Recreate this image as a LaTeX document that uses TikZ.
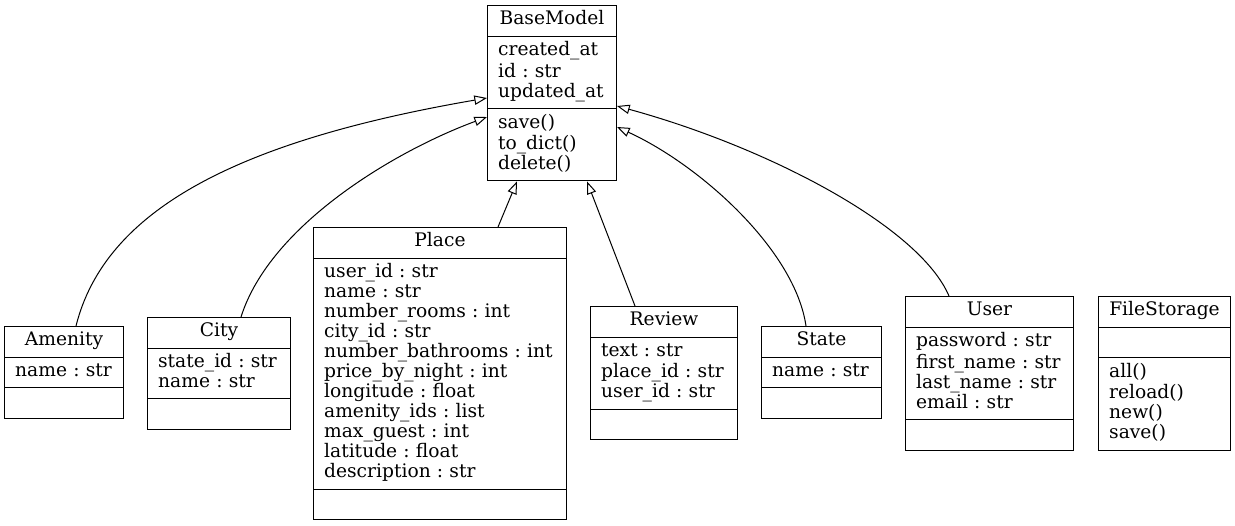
\documentclass[tikz,border=0pt]{standalone}
\usepackage{fontspec}
\setmainfont{DejaVu Serif}
\usepackage{tikz}
\usetikzlibrary{arrows.meta, shapes.multipart, calc}

\tikzset{
  classbox/.style={draw, line width=0.75pt, rectangle split, rectangle split parts=3,
    text width=#1, align=left, inner xsep=8pt, inner ysep=3.6pt,
    anchor=north west, font=\fontsize{14}{15}\selectfont\frenchspacing},
  inherit/.style={-{Triangle[open, length=9.5pt, width=7pt]}, line width=0.75pt}
}

\begin{document}
\begin{tikzpicture}[x=0.75pt, y=-0.75pt]
  \useasboundingbox (0,0) rectangle (1235,525);

  % classes
  \node[classbox=80.75pt] (BaseModel) at (487,5)
    {\strut\hfill BaseModel\hfill\strut
     \nodepart{two}\strut created\_at\\ id : str\\ updated\_at\strut
     \nodepart{three}\strut save()\\ to\_dict()\\ delete()\strut};
  \node[classbox=73.25pt] (Amenity) at (4,326)
    {\strut\hfill Amenity\hfill\strut
     \nodepart{two}\strut name : str\strut
     \nodepart{three}\strut};
  \node[classbox=91.25pt] (City) at (147,317)
    {\strut\hfill City\hfill\strut
     \nodepart{two}\strut state\_id : str\\ name : str\strut
     \nodepart{three}\strut};
  \node[classbox=173.75pt] (Place) at (313,227)
    {\strut\hfill Place\hfill\strut
     \nodepart{two}\strut user\_id : str\\ name : str\\ number\_rooms : int\\
       city\_id : str\\ number\_bathrooms : int\\ price\_by\_night : int\\
       longitude : float\\ amenity\_ids : list\\ max\_guest : int\\
       latitude : float\\ description : str\strut
     \nodepart{three}\strut};
  \node[classbox=94.25pt] (Review) at (590,306)
    {\strut\hfill Review\hfill\strut
     \nodepart{two}\strut text : str\\ place\_id : str\\ user\_id : str\strut
     \nodepart{three}\strut};
  \node[classbox=74pt] (State) at (761,326)
    {\strut\hfill State\hfill\strut
     \nodepart{two}\strut name : str\strut
     \nodepart{three}\strut};
  \node[classbox=110pt] (User) at (905,296)
    {\strut\hfill User\hfill\strut
     \nodepart{two}\strut password : str\\ first\_name : str\\ last\_name : str\\ email : str\strut
     \nodepart{three}\strut};
  \node[classbox=83pt] (FileStorage) at (1098,296)
    {\strut\hfill FileStorage\hfill\strut
     \nodepart{two}\strut
     \nodepart{three}\strut all()\\ reload()\\ new()\\ save()\strut};

  % inheritance
  \draw[inherit] ($(Amenity.north west)+(72,0)$)
    .. controls +(29,-116) and +(-250,43) .. ($(BaseModel.north west)+(0,93)$);
  \draw[inherit] ($(City.north west)+(94,0)$)
    .. controls +(29,-92) and +(-92,34) .. ($(BaseModel.north west)+(0,112)$);
  \draw[inherit] ($(Place.north west)+(185,0)$) -- ($(BaseModel.south west)+(30,0)$);
  \draw[inherit] ($(Review.north west)+(45,0)$) -- ($(BaseModel.south west)+(100,0)$);
  \draw[inherit] ($(State.north west)+(45,0)$)
    .. controls +(-11,-76) and +(83,38) .. ($(BaseModel.north east)+(0,122)$);
  \draw[inherit] ($(User.north west)+(44,0)$)
    .. controls +(-30,-70) and +(150,41) .. ($(BaseModel.north east)+(0,101)$);
\end{tikzpicture}
\end{document}
